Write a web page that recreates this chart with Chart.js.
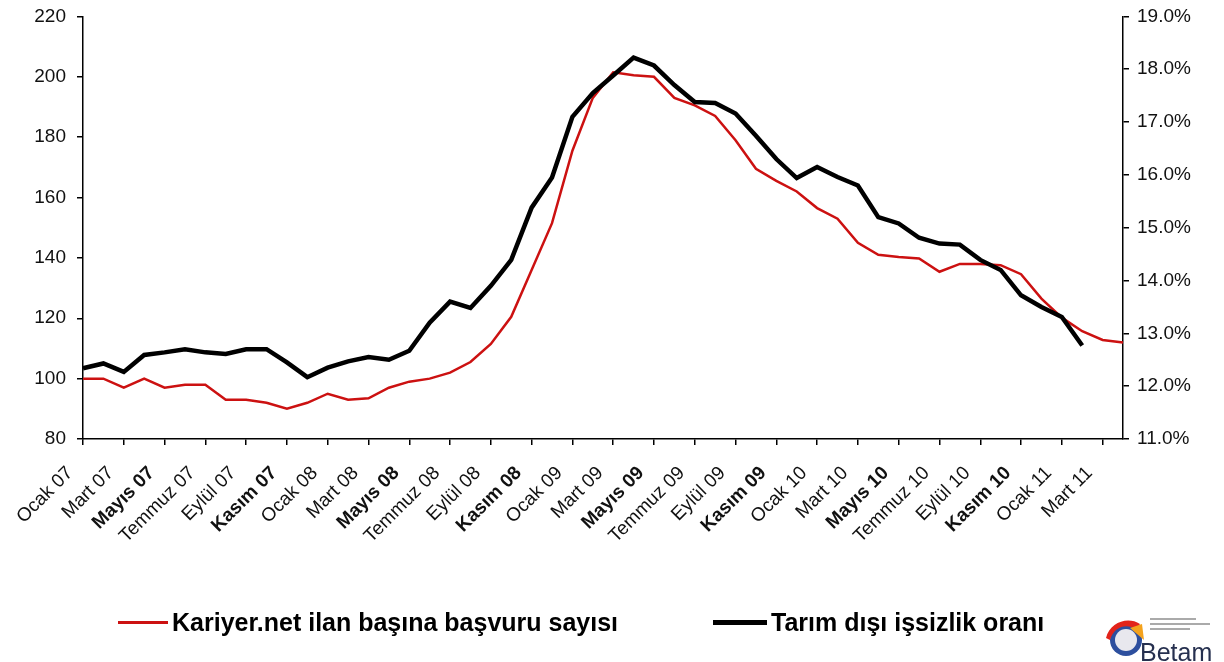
<!DOCTYPE html>
<html>
<head>
<meta charset="utf-8">
<script src="https://cdn.jsdelivr.net/npm/chart.js@4.4.0/dist/chart.umd.min.js"></script>
<style>
  html, body { margin: 0; padding: 0; background: #fff; }
  #wrap { position: relative; width: 1224px; height: 662px; overflow: hidden; }
  #chart { position: absolute; left: 0; top: -6px; }
  .item { position: absolute; top: 608px; height: 28px; display: flex; align-items: center;
          font: bold 25px 'Liberation Sans', Arial, sans-serif; color: #000; white-space: nowrap; }
  .item .swatch { display: inline-block; margin-right: 4px; }
  #logo { position: absolute; left: 1100px; top: 610px; }
</style>
</head>
<body>
<div id="wrap">
  <canvas id="chart" width="1224" height="662"></canvas>
  <div class="item" style="left:118px"><span class="swatch" style="width:50px;height:3px;background:#cc1111"></span>Kariyer.net ilan başına başvuru sayısı</div>
  <div class="item" style="left:713px"><span class="swatch" style="width:54px;height:5px;background:#000"></span>Tarım dışı işsizlik oranı</div>
  <svg id="logo" width="118" height="52" viewBox="0 0 118 52">
    <circle cx="26" cy="30" r="16" fill="#2d4f9e"/>
    <circle cx="26" cy="30" r="11" fill="#e8e8ee"/>
    <path d="M6 28 C 10 12, 28 6, 40 14 L 36 20 C 28 13, 14 16, 10 30 Z" fill="#e2231a"/>
    <path d="M30 18 L 42 14 L 44 30 Z" fill="#f4a21c"/>
    <rect x="50" y="8" width="46" height="2" fill="#aaa"/>
    <rect x="50" y="13" width="60" height="2" fill="#aaa"/>
    <rect x="50" y="18" width="40" height="2" fill="#aaa"/>
    <text x="40" y="51" font-family="Liberation Sans, Arial, sans-serif" font-size="25" fill="#26304f">Betam</text>
  </svg>
</div>
<script>
const labels = [
  'Ocak 07','Şubat 07','Mart 07','Nisan 07','Mayıs 07','Haziran 07','Temmuz 07','Ağustos 07','Eylül 07','Ekim 07','Kasım 07','Aralık 07',
  'Ocak 08','Şubat 08','Mart 08','Nisan 08','Mayıs 08','Haziran 08','Temmuz 08','Ağustos 08','Eylül 08','Ekim 08','Kasım 08','Aralık 08',
  'Ocak 09','Şubat 09','Mart 09','Nisan 09','Mayıs 09','Haziran 09','Temmuz 09','Ağustos 09','Eylül 09','Ekim 09','Kasım 09','Aralık 09',
  'Ocak 10','Şubat 10','Mart 10','Nisan 10','Mayıs 10','Haziran 10','Temmuz 10','Ağustos 10','Eylül 10','Ekim 10','Kasım 10','Aralık 10',
  'Ocak 11','Şubat 11','Mart 11','Nisan 11'
];

// Kariyer.net ilan başına başvuru sayısı (sol eksen)
const applications = [
  100, 100, 97, 100, 97, 98, 98, 93, 93, 92, 90, 92,
  95, 93, 93.5, 97, 99, 100, 102, 105.5, 111.5, 120.5, 136, 151.5,
  175.5, 193, 201.5, 200.5, 200, 193, 190.5, 187, 179, 169.5, 165.5, 162,
  156.5, 153, 145, 141, 140.3, 139.8, 135.4, 138, 138, 137.6, 134.6, 126.5,
  120.2, 115.7, 112.8, 112
];

// Tarım dışı işsizlik oranı, % (sağ eksen)
const unemployment = [
  12.34, 12.43, 12.27, 12.59, 12.64, 12.70, 12.64, 12.61, 12.70, 12.70, 12.45, 12.17,
  12.35, 12.47, 12.55, 12.50, 12.67, 13.20, 13.60, 13.48, 13.90, 14.39, 15.38, 15.95,
  17.10, 17.55, 17.88, 18.22, 18.07, 17.70, 17.38, 17.36, 17.16, 16.74, 16.30, 15.94,
  16.15, 15.96, 15.80, 15.20, 15.08, 14.81, 14.70, 14.68, 14.39, 14.20, 13.72, 13.50,
  13.31, 12.77, null, null
];

const leftTicks = [80, 100, 120, 140, 160, 180, 200, 220];
const rightTicks = [11, 12, 13, 14, 15, 16, 17, 18, 19];

const FONT = "'Liberation Sans', Arial, sans-serif";

const ctx = document.getElementById('chart').getContext('2d');

new Chart(ctx, {
  type: 'line',
  data: {
    labels: labels,
    datasets: [
      {
        label: 'Kariyer.net ilan başına başvuru sayısı',
        data: applications,
        yAxisID: 'y',
        borderColor: '#cc1111',
        borderWidth: 2.5,
        pointRadius: 0,
        tension: 0,
        order: 2
      },
      {
        label: 'Tarım dışı işsizlik oranı',
        data: unemployment,
        yAxisID: 'y2',
        borderColor: '#000',
        borderWidth: 4.5,
        pointRadius: 0,
        tension: 0,
        order: 1
      }
    ]
  },
  options: {
    responsive: false,
    animation: false,
    layout: { padding: { top: 10, left: 0, right: 0, bottom: 0 } },
    plugins: {
      legend: { display: false },
      tooltip: { enabled: false }
    },
    scales: {
      x: {
        type: 'category',
        offset: false,
        afterFit: function(s) { s.height = 217; },
        border: { display: true, color: '#000', width: 1.5 },
        grid: { drawOnChartArea: false, drawTicks: true, tickLength: 6, color: '#000', lineWidth: 1.5 },
        ticks: {
          autoSkip: false,
          maxRotation: 45,
          minRotation: 45,
          padding: 17,
          labelOffset: -13,
          color: '#111',
          font: function(c) {
            const l = (c.tick && c.tick.label) || '';
            const bold = l.startsWith('Mayıs') || l.startsWith('Kasım');
            return { family: FONT, size: 19, weight: bold ? 'bold' : 'normal' };
          },
          callback: function(val, idx) {
            return (idx % 2 === 0 && idx < 51) ? labels[idx] : null;
          }
        }
      },
      y: {
        position: 'left',
        min: 80,
        max: 220,
        afterFit: function(s) { s.width = 83; },
        afterBuildTicks: function(s) { s.ticks = leftTicks.map(v => ({ value: v })); },
        border: { display: true, color: '#000', width: 1.5 },
        grid: { drawOnChartArea: false, tickLength: 6, color: '#000', lineWidth: 1.5 },
        ticks: {
          padding: 11,
          color: '#111',
          font: { family: FONT, size: 19 }
        }
      },
      y2: {
        position: 'right',
        min: 11,
        max: 19,
        afterFit: function(s) { s.width = 101; },
        afterBuildTicks: function(s) { s.ticks = rightTicks.map(v => ({ value: v })); },
        border: { display: true, color: '#000', width: 1.5 },
        grid: { drawOnChartArea: false, tickLength: 6, color: '#000', lineWidth: 1.5 },
        ticks: {
          padding: 8,
          color: '#111',
          font: { family: FONT, size: 19 },
          callback: function(val) { return val.toFixed(1) + '%'; }
        }
      }
    }
  }
});
</script>
</body>
</html>
